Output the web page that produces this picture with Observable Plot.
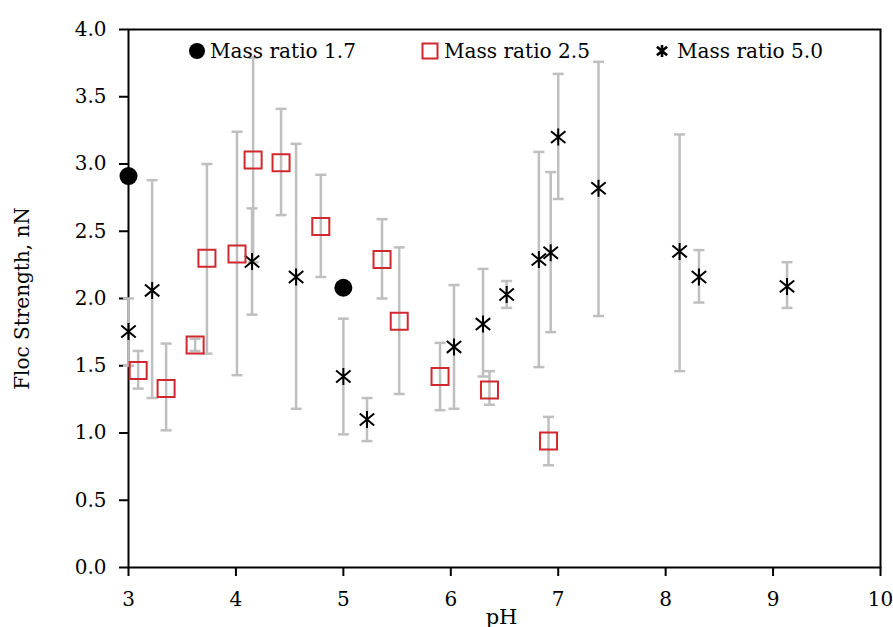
<!DOCTYPE html>
<html>
<head>
<meta charset="utf-8">
<script src="https://cdn.jsdelivr.net/npm/d3@7"></script>
<script src="https://cdn.jsdelivr.net/npm/@observablehq/plot@0.6"></script>
<style>
  body { margin: 0; background: #fff; }
  #wrap { position: relative; width: 893px; height: 627px; font-family: "DejaVu Serif", serif; }
  #wrap svg g[aria-label*="axis"] path, #wrap svg g[aria-label*="axis"] line { stroke-width: 2px; }
  #legend { position: absolute; left: 0; top: 0; pointer-events: none; }
</style>
</head>
<body>
<div id="wrap"></div>
<script>
// ---- data ----
const xTicks = [3, 4, 5, 6, 7, 8, 9, 10];
const yTicks = [0, 0.5, 1, 1.5, 2, 2.5, 3, 3.5, 4];
const seriesNames = ["Mass ratio 1.7", "Mass ratio 2.5", "Mass ratio 5.0"];

// Mass ratio 1.7 (filled circles)
const ph17 = [3.0, 5.0];
const fs17 = [2.91, 2.08];

// Mass ratio 2.5 (red open squares)
const ph25 = [3.09, 3.35, 3.62, 3.73, 4.01, 4.16, 4.42, 4.79, 5.36, 5.52, 5.90, 6.36, 6.91];
const fs25 = [1.465, 1.33, 1.655, 2.30, 2.33, 3.03, 3.01, 2.535, 2.29, 1.83, 1.42, 1.32, 0.94];
const lo25 = [1.33, 1.02, 1.61, 1.59, 1.43, 2.27, 2.62, 2.16, 2.00, 1.29, 1.17, 1.21, 0.76];
const hi25 = [1.61, 1.665, 1.70, 3.00, 3.24, 3.79, 3.41, 2.92, 2.59, 2.38, 1.67, 1.46, 1.12];

// Mass ratio 5.0 (asterisks)
const ph50 = [3.0, 3.22, 4.15, 4.56, 5.0, 5.22, 6.03, 6.30, 6.52, 6.82, 6.93, 7.0, 7.375, 8.13, 8.31, 9.13];
const fs50 = [1.755, 2.06, 2.275, 2.16, 1.42, 1.10, 1.64, 1.81, 2.03, 2.29, 2.34, 3.20, 2.82, 2.35, 2.16, 2.09];
const lo50 = [1.50, 1.26, 1.88, 1.18, 0.99, 0.94, 1.18, 1.42, 1.93, 1.49, 1.75, 2.74, 1.87, 1.46, 1.97, 1.93];
const hi50 = [2.00, 2.88, 2.67, 3.15, 1.85, 1.26, 2.10, 2.22, 2.13, 3.09, 2.94, 3.67, 3.76, 3.22, 2.36, 2.27];

// ---- tables ----
const d17 = ph17.map((x, i) => ({x, y: fs17[i]}));
const d25 = ph25.map((x, i) => ({x, y: fs25[i], lo: lo25[i], hi: hi25[i]}));
const d50 = ph50.map((x, i) => ({x, y: fs50[i], lo: lo50[i], hi: hi50[i]}));
const errs = [...d25, ...d50];

// custom symbols
const capSymbol = {draw(ctx, size) { const r = Math.sqrt(size / Math.PI); ctx.moveTo(-r, 0); ctx.lineTo(r, 0); }};
const starSymbol = {draw(ctx, size) {
  const r = Math.sqrt(size / Math.PI);
  ctx.moveTo(0, -r); ctx.lineTo(0, r);
  ctx.moveTo(-0.85 * r, -0.7 * r); ctx.lineTo(0.85 * r, 0.7 * r);
  ctx.moveTo(-0.85 * r, 0.7 * r); ctx.lineTo(0.85 * r, -0.7 * r);
}};

const RED = "#d0282d";
const GRAY = "#bfbfbf";

const chart = Plot.plot({
  width: 893,
  height: 627,
  marginLeft: 128,
  marginRight: 13,
  marginTop: 29,
  marginBottom: 60,
  style: {fontFamily: "DejaVu Serif, serif", fontSize: "20px", color: "#000", background: "#fff", overflow: "visible"},
  x: {domain: [3, 10], ticks: xTicks, tickSize: 9, tickPadding: 15, tickFormat: d => String(d), label: null},
  y: {domain: [0, 4], ticks: yTicks, tickSize: 9, tickPadding: 13, tickFormat: d3.format(".1f"), label: null},
  marks: [
    Plot.frame({stroke: "#000", strokeWidth: 2}),
    // error bars
    Plot.ruleX(errs, {x: "x", y1: "lo", y2: "hi", stroke: GRAY, strokeWidth: 2.5}),
    Plot.dot(errs, {x: "x", y: "hi", symbol: capSymbol, r: 5.5, stroke: GRAY, strokeWidth: 2.5}),
    Plot.dot(errs, {x: "x", y: "lo", symbol: capSymbol, r: 5.5, stroke: GRAY, strokeWidth: 2.5}),
    // points
    Plot.dot(d50, {x: "x", y: "y", symbol: starSymbol, r: 8.5, stroke: "#000", strokeWidth: 2}),
    Plot.dot(d25, {x: "x", y: "y", symbol: "square", r: 9.6, stroke: RED, fill: "none", strokeWidth: 2}),
    Plot.dot(d17, {x: "x", y: "y", symbol: "circle", r: 9, fill: "#000", stroke: "none"}),
    // axis titles
    Plot.text(["pH"], {text: d => d, frameAnchor: "bottom", lineAnchor: "bottom", dy: 56, dx: -3, fontSize: 21}),
    Plot.text(["Floc Strength, nN"], {text: d => d, frameAnchor: "left", textAnchor: "middle", lineAnchor: "middle", rotate: -90, dx: -106, fontSize: 20})
  ]
});

const wrap = document.getElementById("wrap");
wrap.appendChild(chart);

// ---- legend overlay (inside the plot frame, top) ----
const leg = d3.select(wrap).append("svg")
  .attr("id", "legend").attr("width", 893).attr("height", 80)
  .style("font-family", "DejaVu Serif, serif").style("font-size", "21px");

const legItems = [
  {name: seriesNames[0], mx: 197, tx: 210, kind: "circle"},
  {name: seriesNames[1], mx: 430, tx: 444, kind: "square"},
  {name: seriesNames[2], mx: 662, tx: 677, kind: "star"}
];
const cy = 51;
legItems.forEach(it => {
  if (it.kind === "circle") {
    leg.append("circle").attr("cx", it.mx).attr("cy", cy).attr("r", 8).attr("fill", "#000");
  } else if (it.kind === "square") {
    leg.append("rect").attr("x", it.mx - 7.5).attr("y", cy - 7.5).attr("width", 15).attr("height", 15)
      .attr("fill", "none").attr("stroke", RED).attr("stroke-width", 2);
  } else {
    const r = 6;
    leg.append("path")
      .attr("d", `M${it.mx},${cy - r}V${cy + r}M${it.mx - 0.85 * r},${cy - 0.7 * r}L${it.mx + 0.85 * r},${cy + 0.7 * r}M${it.mx - 0.85 * r},${cy + 0.7 * r}L${it.mx + 0.85 * r},${cy - 0.7 * r}`)
      .attr("stroke", "#000").attr("stroke-width", 2.6).attr("fill", "none");
  }
  leg.append("text").attr("x", it.tx).attr("y", 58).text(it.name)
    .attr("textLength", 146).attr("lengthAdjust", "spacingAndGlyphs").attr("fill", "#000");
});
</script>
</body>
</html>
